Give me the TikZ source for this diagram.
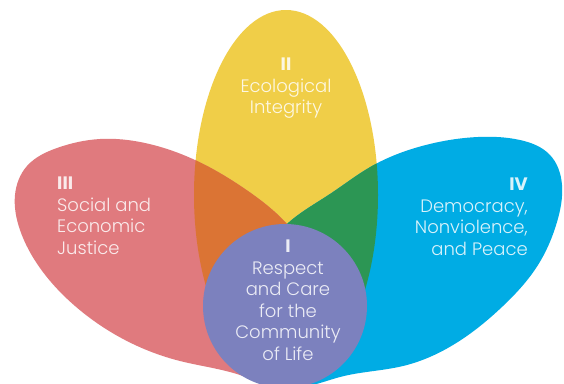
\documentclass[tikz,border=0pt]{standalone}
\usepackage{fontspec}
\setmainfont{Poppins}[UprightFont=* Light, BoldFont=* Bold]
\usetikzlibrary{hobby}
\definecolor{petalred}{RGB}{224,122,126}
\definecolor{petalyellow}{RGB}{240,206,72}
\definecolor{petalblue}{RGB}{0,172,228}
\definecolor{overorange}{RGB}{219,116,52}
\definecolor{overgreen}{RGB}{44,150,84}
\definecolor{corepurple}{RGB}{124,129,190}
\tikzset{
  petaltext/.style={text=white, text opacity=0.85, inner sep=0pt, align=center,
    font=\fontsize{18}{21.5}\selectfont},
  petalline/.style={use Hobby shortcut, closed=true}
}
\newcommand{\redpetal}{(287,224) .. (245,189) .. (195,160) .. (145,143) .. (100,139)
  .. (57,148) .. (27,166) .. (15,195) .. (20,230) .. (40,268) .. (75,306) .. (125,340)
  .. (180,361) .. (240,375) .. (295,385) .. (330,335) .. (316,268)}
\newcommand{\bluepetal}{(287,224) .. (330,194) .. (372,166) .. (422,146) .. (478,137)
  .. (520,140) .. (550,155) .. (562,185) .. (557,222) .. (538,265) .. (503,306)
  .. (453,345) .. (403,366) .. (340,377) .. (285,386) .. (245,335) .. (256,268)}
\newcommand{\yellowpetal}{(286,195) ellipse [x radius=92, y radius=185]}

\begin{document}
\begin{tikzpicture}[x=1pt, y=-1pt]
    \fill[white] (0,0) rectangle (564,383);
    \useasboundingbox (0,0) rectangle (564,383);
    \begin{scope}
    \clip (0,0) rectangle (564,383);
    % the three petals
    \fill[petalyellow] \yellowpetal;
    \fill[petalred, petalline] \redpetal;
    \fill[petalblue, petalline] \bluepetal;
    % where they cross the yellow one
    \begin{scope}
        \clip \yellowpetal;
        \fill[overorange, petalline] \redpetal;
        \fill[overgreen, petalline] \bluepetal;
    \end{scope}
    \fill[corepurple] (285,306) circle [radius=82];
    \end{scope}

    \node[petaltext, anchor=north] (eco) at (286,58) {{\bfseries II}\\Ecological\\Integrity};
    \node[petaltext, anchor=north west, align=left] (social) at (57,177) {{\bfseries III}\\Social and\\Economic\\Justice};
    \node[petaltext, anchor=north east, align=right] (peace) at (528,178) {{\bfseries IV}\\Democracy,\\Nonviolence,\\and Peace};
    \node[petaltext, anchor=north] (respect) at (288,240) {{\bfseries I}\\Respect\\and Care\\for the\\Community\\of Life};
\end{tikzpicture}
\end{document}
